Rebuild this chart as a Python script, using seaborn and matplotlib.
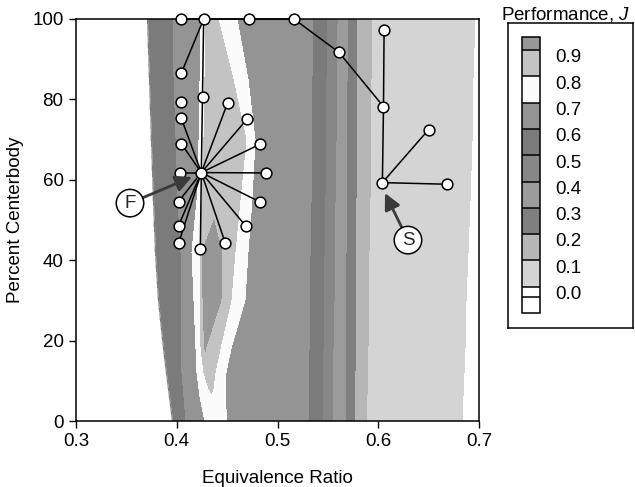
import numpy as np
import matplotlib
matplotlib.use("Agg")
import matplotlib.pyplot as plt
import seaborn as sns

# ---------------- data ----------------
# Performance J sampled along rows of constant percent centerbody.
# Each row: equivalence-ratio positions and J values.
cb_rows = [0, 6, 12, 18, 30, 42, 55, 70, 85, 100]

phi_rows = [
    [0.30, 0.3953, 0.3973, 0.4092, 0.4280, 0.4330, 0.4360, 0.4390, 0.4419, 0.4449, 0.4499, 0.5303, 0.5442, 0.5541, 0.5670, 0.5769, 0.5888, 0.6831, 0.70],
    [0.30, 0.3923, 0.3943, 0.4072, 0.4231, 0.4310, 0.4330, 0.4350, 0.4370, 0.4390, 0.4479, 0.5303, 0.5442, 0.5541, 0.5670, 0.5769, 0.5888, 0.6841, 0.70],
    [0.30, 0.3893, 0.3913, 0.4052, 0.4201, 0.4270, 0.4300, 0.4320, 0.4340, 0.4380, 0.4489, 0.5308, 0.5447, 0.5546, 0.5670, 0.5769, 0.5893, 0.6851, 0.70],
    [0.30, 0.3864, 0.3883, 0.4052, 0.4191, 0.4241, 0.4261, 0.4280, 0.4300, 0.4429, 0.4538, 0.5313, 0.5452, 0.5551, 0.5675, 0.5774, 0.5898, 0.6861, 0.70],
    [0.30, 0.3814, 0.3834, 0.4052, 0.4171, 0.4231, 0.4261, 0.4350, 0.4439, 0.4538, 0.4677, 0.5318, 0.5457, 0.5561, 0.5675, 0.5774, 0.5903, 0.6871, 0.70],
    [0.30, 0.3784, 0.3804, 0.4042, 0.4151, 0.4231, 0.4251, 0.4350, 0.4449, 0.4578, 0.4707, 0.5323, 0.5462, 0.5566, 0.5680, 0.5779, 0.5908, 0.6891, 0.70],
    [0.30, 0.3764, 0.3784, 0.4012, 0.4201, 0.4251, 0.4310, 0.4380, 0.4479, 0.4628, 0.4747, 0.5333, 0.5471, 0.5571, 0.5680, 0.5779, 0.5918, 0.6911, 0.70],
    [0.30, 0.3744, 0.3764, 0.3993, 0.4221, 0.4270, 0.4330, 0.4429, 0.4548, 0.4687, 0.4777, 0.5337, 0.5476, 0.5581, 0.5685, 0.5784, 0.5923, 0.6931, 0.70],
    [0.30, 0.3725, 0.3744, 0.3973, 0.4231, 0.4280, 0.4330, 0.4409, 0.4489, 0.4558, 0.4707, 0.5342, 0.5481, 0.5586, 0.5690, 0.5789, 0.5928, 0.6940, 0.70],
    [0.30, 0.3705, 0.3725, 0.3963, 0.4241, 0.4290, 0.4320, 0.4350, 0.4380, 0.4409, 0.4598, 0.5352, 0.5491, 0.5591, 0.5690, 0.5789, 0.5938, 0.6960, 0.70],
]

J_rows = [
    [-0.1, 0.0, 0.5, 0.6, 0.7, 0.74, 0.76, 0.77, 0.76, 0.74, 0.7, 0.6, 0.5, 0.4, 0.3, 0.2, 0.1, 0.0, -0.1],
    [-0.1, 0.0, 0.5, 0.6, 0.7, 0.76, 0.78, 0.79, 0.78, 0.76, 0.7, 0.6, 0.5, 0.4, 0.3, 0.2, 0.1, 0.0, -0.1],
    [-0.1, 0.0, 0.5, 0.6, 0.7, 0.80, 0.84, 0.86, 0.84, 0.80, 0.7, 0.6, 0.5, 0.4, 0.3, 0.2, 0.1, 0.0, -0.1],
    [-0.1, 0.0, 0.5, 0.6, 0.7, 0.80, 0.88, 0.905, 0.88, 0.80, 0.7, 0.6, 0.5, 0.4, 0.3, 0.2, 0.1, 0.0, -0.1],
    [-0.1, 0.0, 0.5, 0.6, 0.7, 0.80, 0.90, 0.94, 0.90, 0.80, 0.7, 0.6, 0.5, 0.4, 0.3, 0.2, 0.1, 0.0, -0.1],
    [-0.1, 0.0, 0.5, 0.6, 0.7, 0.80, 0.90, 0.93, 0.90, 0.80, 0.7, 0.6, 0.5, 0.4, 0.3, 0.2, 0.1, 0.0, -0.1],
    [-0.1, 0.0, 0.5, 0.6, 0.7, 0.80, 0.86, 0.88, 0.86, 0.80, 0.7, 0.6, 0.5, 0.4, 0.3, 0.2, 0.1, 0.0, -0.1],
    [-0.1, 0.0, 0.5, 0.6, 0.7, 0.80, 0.84, 0.85, 0.84, 0.80, 0.7, 0.6, 0.5, 0.4, 0.3, 0.2, 0.1, 0.0, -0.1],
    [-0.1, 0.0, 0.5, 0.6, 0.7, 0.80, 0.84, 0.85, 0.84, 0.80, 0.7, 0.6, 0.5, 0.4, 0.3, 0.2, 0.1, 0.0, -0.1],
    [-0.1, 0.0, 0.5, 0.6, 0.7, 0.80, 0.83, 0.84, 0.83, 0.80, 0.7, 0.6, 0.5, 0.4, 0.3, 0.2, 0.1, 0.0, -0.1],
]

# contour levels and band greys (legend)
levels = [-0.1, -0.04, 0.0, 0.1, 0.2, 0.3, 0.4, 0.5, 0.6, 0.7, 0.8, 0.9, 0.95]
band_colors = ["#ffffff", "#ffffff", "#d4d4d4", "#b6b6b6", "#7f7f7f", "#9b9b9b",
               "#878787", "#7b7b7b", "#949494", "#fbfbfb", "#c3c3c3", "#979797"]
legend_ticks = [0.0, 0.1, 0.2, 0.3, 0.4, 0.5, 0.6, 0.7, 0.8, 0.9]

# simplex search points (equivalence ratio, percent centerbody)
pts_phi = [0.4244, 0.4267, 0.4045, 0.4715, 0.5163, 0.5610, 0.6052, 0.6058, 0.6041, 0.6500,
           0.6679, 0.4045, 0.4257, 0.4045, 0.4045, 0.4045, 0.4028, 0.4018, 0.4018, 0.4018,
           0.4234, 0.4483, 0.4688, 0.4824, 0.4881, 0.4831, 0.4698, 0.4506]
pts_cb = [61.8, 100.0, 100.0, 100.0, 100.0, 91.7, 78.2, 97.3, 59.3, 72.5,
          58.9, 86.5, 80.7, 79.4, 75.3, 69.0, 61.8, 54.6, 48.6, 44.2,
          42.8, 44.2, 48.4, 54.5, 61.7, 68.9, 75.1, 79.2]
# connections between points (index pairs)
links = [(0, 1), (1, 2), (1, 3), (3, 4), (4, 5), (5, 6), (6, 7), (6, 8), (8, 9), (8, 10),
         (11, 1), (0, 14), (0, 15), (0, 16), (0, 17), (0, 18), (0, 19), (0, 20), (0, 21),
         (0, 22), (0, 23), (0, 24), (0, 25), (0, 26), (0, 27)]

# labelled points: text, label position, arrow target
callouts = [("F", (0.3536, 54.2), (0.4151, 60.7)),
            ("S", (0.6295, 45.0), (0.6067, 56.7))]

# ---------------- style ----------------
sns.set_style("ticks")
plt.rcParams["font.family"] = ["Liberation Sans", "DejaVu Sans"]
plt.rcParams["mathtext.fontset"] = "custom"
plt.rcParams["mathtext.rm"] = "Liberation Sans"
plt.rcParams["mathtext.it"] = "Liberation Sans:italic"
FS = 13.5

W, H = 635, 487
fig = plt.figure(figsize=(W / 100, H / 100), dpi=100)
ax = fig.add_axes([76 / W, (H - 421) / H, 403 / W, 402 / H])

PHI = np.array(phi_rows)
CB = np.repeat(np.array(cb_rows, dtype=float)[:, None], PHI.shape[1], axis=1)
J = np.array(J_rows)

cf = ax.contourf(PHI, CB, J, levels=levels, colors=band_colors)

for i, j in links:
    ax.plot([pts_phi[i], pts_phi[j]], [pts_cb[i], pts_cb[j]], color="black",
            lw=1.1, zorder=4, clip_on=False, solid_capstyle="round")
sns.scatterplot(x=pts_phi, y=pts_cb, ax=ax, s=60, color="white", edgecolor="black",
                linewidth=1.1, zorder=6, clip_on=False, legend=False)

for txt, pos, tip in callouts:
    ax.annotate(txt, xy=tip, xytext=pos, fontsize=FS, ha="center", va="center", zorder=7,
                bbox=dict(boxstyle="circle,pad=0.28", fc="white", ec="black", lw=1.1),
                arrowprops=dict(arrowstyle="-|>,head_length=0.7,head_width=0.35",
                                color="#3a3a3a", lw=2.0, shrinkA=0, shrinkB=0,
                                mutation_scale=14))

ax.set_xlim(0.3, 0.7)
ax.set_ylim(0, 100)
ax.set_xticks([0.3, 0.4, 0.5, 0.6, 0.7])
ax.set_xticklabels(["0.3", "0.4", "0.5", "0.6", "0.7"])
ax.set_yticks([0, 20, 40, 60, 80, 100])
ax.tick_params(direction="out", length=5, width=1, labelsize=FS, colors="black", pad=4)
for sp in ax.spines.values():
    sp.set_visible(True)
    sp.set_color("black")
    sp.set_linewidth(1.1)
ax.set_xlabel("Equivalence Ratio", fontsize=FS, color="black")
ax.set_ylabel("Percent Centerbody", fontsize=FS, color="black")
ax.xaxis.set_label_coords(0.5, -0.122)
ax.yaxis.set_label_coords(-0.128, 0.5)

# legend frame and colour key
ax_leg = fig.add_axes([508 / W, (H - 328) / H, 125 / W, 305 / H])
ax_leg.set_xticks([])
ax_leg.set_yticks([])
for sp in ax_leg.spines.values():
    sp.set_color("black")
    sp.set_linewidth(1.1)
cax = fig.add_axes([522 / W, (H - 313) / H, 18 / W, 276 / H])
cbar = fig.colorbar(cf, cax=cax, spacing="proportional", drawedges=True)
cbar.set_ticks([v - 0.022 for v in legend_ticks])
cbar.set_ticklabels([f"{v:.1f}" for v in legend_ticks])
cbar.ax.tick_params(length=0, labelsize=FS, pad=11, colors="black")
cbar.outline.set_edgecolor("black")
cbar.outline.set_linewidth(1.1)
cbar.dividers.set_color("black")
cbar.dividers.set_linewidth(1.1)
fig.text(566 / W, 1 - 14 / H, "Performance, $\\mathit{J}$", fontsize=FS,
         ha="center", va="center", color="black")

fig.savefig("out.png", dpi=100, facecolor="white")
